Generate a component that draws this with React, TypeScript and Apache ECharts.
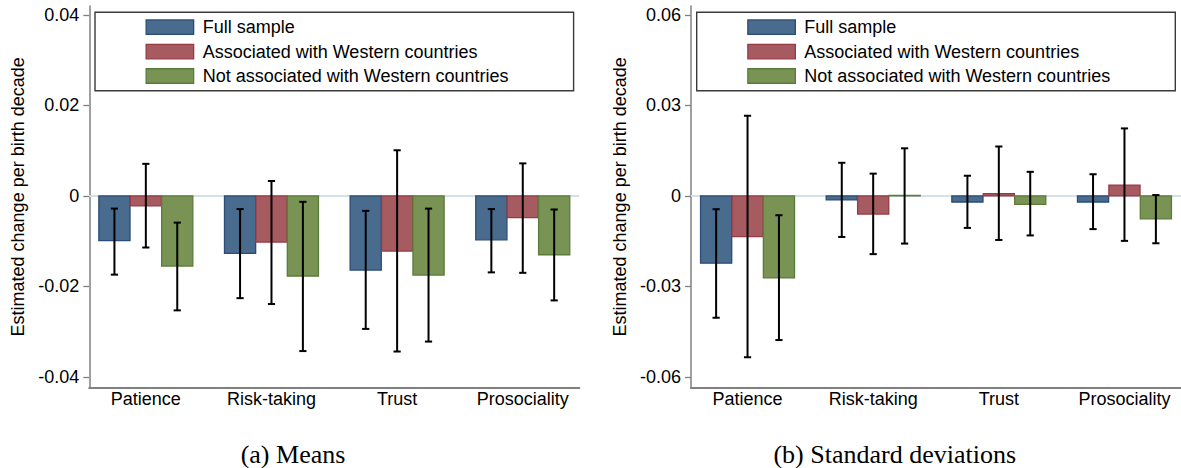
import { useEffect, useRef } from "react";
import * as echarts from "echarts";

const categories = ["Patience", "Risk-taking", "Trust", "Prosociality"];
const seriesNames = [
  "Full sample",
  "Associated with Western countries",
  "Not associated with Western countries",
];

// Panel (a) Means: point estimates and confidence bounds
const meansFull = [-0.0099, -0.0127, -0.0164, -0.0097];
const meansFullLow = [-0.0174, -0.0226, -0.0294, -0.0169];
const meansFullHigh = [-0.0028, -0.0029, -0.0033, -0.0029];
const meansAssoc = [-0.0022, -0.0102, -0.0122, -0.0048];
const meansAssocLow = [-0.0114, -0.0239, -0.0344, -0.017];
const meansAssocHigh = [0.0071, 0.0033, 0.0101, 0.0072];
const meansNot = [-0.0155, -0.0177, -0.0175, -0.013];
const meansNotLow = [-0.0253, -0.0343, -0.0322, -0.0231];
const meansNotHigh = [-0.0059, -0.0013, -0.0028, -0.003];

// Panel (b) Standard deviations
const sdFull = [-0.0223, -0.0013, -0.002, -0.002];
const sdFullLow = [-0.0404, -0.0136, -0.0106, -0.011];
const sdFullHigh = [-0.0044, 0.011, 0.0067, 0.0072];
const sdAssoc = [-0.0135, -0.006, 0.0008, 0.0036];
const sdAssocLow = [-0.0535, -0.0193, -0.0146, -0.0149];
const sdAssocHigh = [0.0266, 0.0074, 0.0164, 0.0224];
const sdNot = [-0.0272, 0.0002, -0.0028, -0.0076];
const sdNotLow = [-0.0478, -0.0158, -0.0131, -0.0157];
const sdNotHigh = [-0.0064, 0.0158, 0.008, 0.0003];

const meansTicks = [-0.04, -0.02, 0, 0.02, 0.04];
const sdTicks = [-0.06, -0.03, 0, 0.03, 0.06];
const captions = ["(a) Means", "(b) Standard deviations"];

const FILLS = ["#486b8e", "#a65b60", "#789354"];
const STROKES = ["#2a4c76", "#973a45", "#5b7b3b"];
const OFFSETS = [-0.25, 0, 0.25];
const BAR_HALF = 0.124;
const FONT = "'Liberation Sans', Arial, Helvetica, sans-serif";
const AXIS_GREY = "#808080";

const PANEL_SHIFT = 601.7;
const GRID_LEFT = 89.3;
const GRID_TOP = 6;
const GRID_W = 490;
const GRID_H = 381.7;

function barRender(k: number) {
  return (params: any, api: any) => {
    const x = api.value(0) as number;
    const v = api.value(1) as number;
    const a = api.coord([x + OFFSETS[k] - BAR_HALF, 0]);
    const b = api.coord([x + OFFSETS[k] + BAR_HALF, v]);
    return {
      type: "rect",
      shape: {
        x: Math.min(a[0], b[0]),
        y: Math.min(a[1], b[1]),
        width: Math.abs(b[0] - a[0]),
        height: Math.max(Math.abs(b[1] - a[1]), 0.5),
      },
      style: { fill: FILLS[k], stroke: STROKES[k], lineWidth: 1.3 },
    };
  };
}

function errRender(params: any, api: any) {
  const x = api.value(0) as number;
  const lo = api.coord([x, api.value(1)]);
  const hi = api.coord([x, api.value(2)]);
  const cap = 3.6;
  const st = { stroke: "#000", lineWidth: 2 };
  return {
    type: "group",
    children: [
      { type: "line", shape: { x1: lo[0], y1: lo[1], x2: hi[0], y2: hi[1] }, style: st },
      { type: "line", shape: { x1: lo[0] - cap, y1: lo[1], x2: lo[0] + cap, y2: lo[1] }, style: st },
      { type: "line", shape: { x1: hi[0] - cap, y1: hi[1], x2: hi[0] + cap, y2: hi[1] }, style: st },
    ],
  };
}

function zeroRender(params: any, api: any) {
  const cs = params.coordSys;
  const y = api.coord([0, 0])[1];
  return {
    type: "line",
    shape: { x1: cs.x, y1: y, x2: cs.x + cs.width, y2: y },
    style: { stroke: "#d3e1eb", lineWidth: 2 },
  };
}

function panelSeries(
  idx: number,
  vals: number[][],
  lows: number[][],
  highs: number[][]
) {
  const out: any[] = [];
  out.push({
    type: "custom",
    name: "zero",
    xAxisIndex: idx,
    yAxisIndex: idx,
    z: 1,
    silent: true,
    renderItem: zeroRender,
    data: [[0, 0]],
  });
  for (let k = 0; k < 3; k++) {
    out.push({
      type: "custom",
      name: seriesNames[k],
      xAxisIndex: idx,
      yAxisIndex: idx,
      z: 2,
      itemStyle: { color: FILLS[k], borderColor: STROKES[k] },
      renderItem: barRender(k),
      encode: { x: 0, y: 1 },
      data: categories.map((_, i) => [i, vals[k][i]]),
    });
  }
  const errData: number[][] = [];
  for (let k = 0; k < 3; k++) {
    categories.forEach((_, i) => {
      errData.push([i + OFFSETS[k], lows[k][i], highs[k][i]]);
    });
  }
  out.push({
    type: "custom",
    name: "ci",
    xAxisIndex: idx,
    yAxisIndex: idx,
    z: 3,
    silent: true,
    renderItem: errRender,
    encode: { x: 0, y: [1, 2] },
    data: errData,
  });
  return out;
}

function xAxisOpt(idx: number) {
  return {
    type: "value",
    gridIndex: idx,
    min: -0.45,
    max: 3.45,
    axisLine: { show: true, onZero: false, lineStyle: { color: AXIS_GREY, width: 2.2 } },
    axisTick: { show: false },
    splitLine: { show: false },
    axisLabel: {
      customValues: [0, 1, 2, 3],
      formatter: (v: number) => categories[Math.round(v)] ?? "",
      fontSize: 18,
      fontFamily: FONT,
      color: "#000",
      margin: 2,
    },
  };
}

function yAxisOpt(idx: number, ticks: number[], min: number, max: number) {
  return {
    type: "value",
    gridIndex: idx,
    min,
    max,
    name: "Estimated change per birth decade",
    nameLocation: "middle",
    nameGap: 62,
    nameTextStyle: { fontSize: 18, fontFamily: FONT, color: "#000" },
    axisLine: { show: true, onZero: false, lineStyle: { color: AXIS_GREY, width: 1.5 } },
    axisTick: {
      show: true,
      customValues: ticks,
      length: 6,
      lineStyle: { color: AXIS_GREY, width: 1.3 },
    },
    splitLine: { show: false },
    axisLabel: {
      customValues: ticks,
      formatter: (v: number) => (Math.abs(v) < 1e-9 ? "0" : v.toFixed(2)),
      fontSize: 18,
      fontFamily: FONT,
      color: "#000",
      margin: 10,
    },
  };
}

function legendOpt(idx: number) {
  return {
    orient: "vertical",
    left: 145.5 + idx * PANEL_SHIFT,
    top: 18.2,
    padding: 0,
    itemWidth: 47.5,
    itemHeight: 14.5,
    itemGap: 6.4,
    icon: "rect",
    selectedMode: false,
    textStyle: { fontSize: 18, fontFamily: FONT, color: "#000", padding: [0, 0, 0, 4] },
    data: seriesNames.map((n, k) => ({
      name: n,
      itemStyle: { color: FILLS[k], borderColor: STROKES[k], borderWidth: 1.3 },
    })),
  };
}

export default function App() {
  const ref = useRef<HTMLDivElement>(null);
  useEffect(() => {
    if (!ref.current) return;
    const chart = echarts.init(ref.current, undefined, { renderer: "svg" });
    const option: any = {
      animation: false,
      backgroundColor: "#fff",
      grid: [
        { left: GRID_LEFT, top: GRID_TOP, width: GRID_W, height: GRID_H },
        { left: GRID_LEFT + PANEL_SHIFT, top: GRID_TOP, width: GRID_W, height: GRID_H },
      ],
      xAxis: [xAxisOpt(0), xAxisOpt(1)],
      yAxis: [
        yAxisOpt(0, meansTicks, -0.0424, 0.042),
        yAxisOpt(1, sdTicks, -0.0636, 0.063),
      ],
      legend: [legendOpt(0), legendOpt(1)],
      graphic: [
        {
          type: "rect",
          shape: { x: 95, y: 12.3, width: 478.6, height: 78.4 },
          style: { fill: "none", stroke: "#3a3a3a", lineWidth: 1.4 },
          z: 0,
        },
        {
          type: "rect",
          shape: { x: 95 + PANEL_SHIFT, y: 12.3, width: 478.6, height: 78.4 },
          style: { fill: "none", stroke: "#3a3a3a", lineWidth: 1.4 },
          z: 0,
        },
        {
          type: "text",
          x: 293,
          y: 454,
          style: {
            text: captions[0],
            font: "26px 'Liberation Serif', 'Times New Roman', serif",
            fill: "#000",
            textAlign: "center",
            textVerticalAlign: "middle",
          },
        },
        {
          type: "text",
          x: 293 + PANEL_SHIFT,
          y: 454,
          style: {
            text: captions[1],
            font: "26px 'Liberation Serif', 'Times New Roman', serif",
            fill: "#000",
            textAlign: "center",
            textVerticalAlign: "middle",
          },
        },
      ],
      series: [
        ...panelSeries(
          0,
          [meansFull, meansAssoc, meansNot],
          [meansFullLow, meansAssocLow, meansNotLow],
          [meansFullHigh, meansAssocHigh, meansNotHigh]
        ),
        ...panelSeries(
          1,
          [sdFull, sdAssoc, sdNot],
          [sdFullLow, sdAssocLow, sdNotLow],
          [sdFullHigh, sdAssocHigh, sdNotHigh]
        ),
      ],
    };
    chart.setOption(option);
    return () => chart.dispose();
  }, []);
  return (
    <div
      ref={ref}
      style={{ position: "absolute", left: 0, top: 0, width: 1181, height: 468 }}
    />
  );
}
